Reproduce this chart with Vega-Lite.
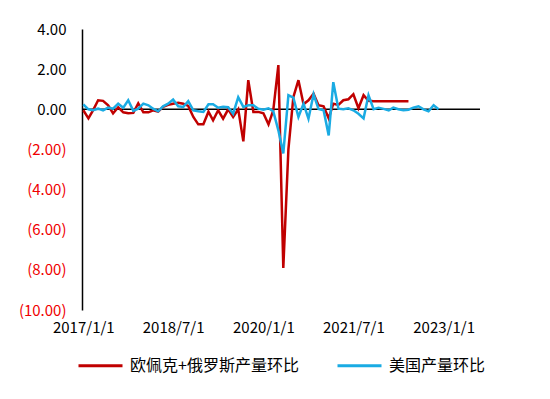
{
  "$schema": "https://vega.github.io/schema/vega-lite/v6.json",
  "width": 398,
  "height": 281,
  "autosize": {"type": "none"},
  "padding": {"left": 82, "top": 29, "right": 70, "bottom": 89},
  "background": "white",
  "config": {"view": {"stroke": null}, "font": "Noto Sans CJK SC"},
  "datasets": {
    "main": [
      {"date":"2017/01/01","series":"欧佩克+俄罗斯产量环比","value":-0.05},
      {"date":"2017/02/01","series":"欧佩克+俄罗斯产量环比","value":-0.45},
      {"date":"2017/03/01","series":"欧佩克+俄罗斯产量环比","value":-0.05},
      {"date":"2017/04/01","series":"欧佩克+俄罗斯产量环比","value":0.45},
      {"date":"2017/05/01","series":"欧佩克+俄罗斯产量环比","value":0.42},
      {"date":"2017/06/01","series":"欧佩克+俄罗斯产量环比","value":0.2},
      {"date":"2017/07/01","series":"欧佩克+俄罗斯产量环比","value":-0.2},
      {"date":"2017/08/01","series":"欧佩克+俄罗斯产量环比","value":0.1},
      {"date":"2017/09/01","series":"欧佩克+俄罗斯产量环比","value":-0.15},
      {"date":"2017/10/01","series":"欧佩克+俄罗斯产量环比","value":-0.2},
      {"date":"2017/11/01","series":"欧佩克+俄罗斯产量环比","value":-0.18},
      {"date":"2017/12/01","series":"欧佩克+俄罗斯产量环比","value":0.3},
      {"date":"2018/01/01","series":"欧佩克+俄罗斯产量环比","value":-0.15},
      {"date":"2018/02/01","series":"欧佩克+俄罗斯产量环比","value":-0.15},
      {"date":"2018/03/01","series":"欧佩克+俄罗斯产量环比","value":-0.05},
      {"date":"2018/04/01","series":"欧佩克+俄罗斯产量环比","value":-0.12},
      {"date":"2018/05/01","series":"欧佩克+俄罗斯产量环比","value":0.12},
      {"date":"2018/06/01","series":"欧佩克+俄罗斯产量环比","value":0.22},
      {"date":"2018/07/01","series":"欧佩克+俄罗斯产量环比","value":0.28},
      {"date":"2018/08/01","series":"欧佩克+俄罗斯产量环比","value":0.33},
      {"date":"2018/09/01","series":"欧佩克+俄罗斯产量环比","value":0.28},
      {"date":"2018/10/01","series":"欧佩克+俄罗斯产量环比","value":0.17},
      {"date":"2018/11/01","series":"欧佩克+俄罗斯产量环比","value":-0.38},
      {"date":"2018/12/01","series":"欧佩克+俄罗斯产量环比","value":-0.75},
      {"date":"2019/01/01","series":"欧佩克+俄罗斯产量环比","value":-0.75},
      {"date":"2019/02/01","series":"欧佩克+俄罗斯产量环比","value":-0.12},
      {"date":"2019/03/01","series":"欧佩克+俄罗斯产量环比","value":-0.55},
      {"date":"2019/04/01","series":"欧佩克+俄罗斯产量环比","value":-0.05},
      {"date":"2019/05/01","series":"欧佩克+俄罗斯产量环比","value":-0.47},
      {"date":"2019/06/01","series":"欧佩克+俄罗斯产量环比","value":0.0},
      {"date":"2019/07/01","series":"欧佩克+俄罗斯产量环比","value":-0.38},
      {"date":"2019/08/01","series":"欧佩克+俄罗斯产量环比","value":0.0},
      {"date":"2019/09/01","series":"欧佩克+俄罗斯产量环比","value":-1.6},
      {"date":"2019/10/01","series":"欧佩克+俄罗斯产量环比","value":1.45},
      {"date":"2019/11/01","series":"欧佩克+俄罗斯产量环比","value":-0.13},
      {"date":"2019/12/01","series":"欧佩克+俄罗斯产量环比","value":-0.13},
      {"date":"2020/01/01","series":"欧佩克+俄罗斯产量环比","value":-0.2},
      {"date":"2020/02/01","series":"欧佩克+俄罗斯产量环比","value":-0.75},
      {"date":"2020/03/01","series":"欧佩克+俄罗斯产量环比","value":-0.05},
      {"date":"2020/04/01","series":"欧佩克+俄罗斯产量环比","value":2.2},
      {"date":"2020/05/01","series":"欧佩克+俄罗斯产量环比","value":-7.9},
      {"date":"2020/06/01","series":"欧佩克+俄罗斯产量环比","value":-2.0},
      {"date":"2020/07/01","series":"欧佩克+俄罗斯产量环比","value":0.6},
      {"date":"2020/08/01","series":"欧佩克+俄罗斯产量环比","value":1.45},
      {"date":"2020/09/01","series":"欧佩克+俄罗斯产量环比","value":0.25},
      {"date":"2020/10/01","series":"欧佩克+俄罗斯产量环比","value":0.45},
      {"date":"2020/11/01","series":"欧佩克+俄罗斯产量环比","value":0.78},
      {"date":"2020/12/01","series":"欧佩克+俄罗斯产量环比","value":0.2},
      {"date":"2021/01/01","series":"欧佩克+俄罗斯产量环比","value":0.15},
      {"date":"2021/02/01","series":"欧佩克+俄罗斯产量环比","value":-0.45},
      {"date":"2021/03/01","series":"欧佩克+俄罗斯产量环比","value":0.28},
      {"date":"2021/04/01","series":"欧佩克+俄罗斯产量环比","value":0.22},
      {"date":"2021/05/01","series":"欧佩克+俄罗斯产量环比","value":0.45},
      {"date":"2021/06/01","series":"欧佩克+俄罗斯产量环比","value":0.5},
      {"date":"2021/07/01","series":"欧佩克+俄罗斯产量环比","value":0.75},
      {"date":"2021/08/01","series":"欧佩克+俄罗斯产量环比","value":0.05},
      {"date":"2021/09/01","series":"欧佩克+俄罗斯产量环比","value":0.7},
      {"date":"2021/10/01","series":"欧佩克+俄罗斯产量环比","value":0.42},
      {"date":"2021/11/01","series":"欧佩克+俄罗斯产量环比","value":0.4},
      {"date":"2021/12/01","series":"欧佩克+俄罗斯产量环比","value":0.4},
      {"date":"2022/01/01","series":"欧佩克+俄罗斯产量环比","value":0.4},
      {"date":"2022/02/01","series":"欧佩克+俄罗斯产量环比","value":0.4},
      {"date":"2022/03/01","series":"欧佩克+俄罗斯产量环比","value":0.4},
      {"date":"2022/04/01","series":"欧佩克+俄罗斯产量环比","value":0.4},
      {"date":"2022/05/01","series":"欧佩克+俄罗斯产量环比","value":0.4},
      {"date":"2022/06/01","series":"欧佩克+俄罗斯产量环比","value":0.4},
      {"date":"2017/01/01","series":"美国产量环比","value":0.25},
      {"date":"2017/02/01","series":"美国产量环比","value":0.0},
      {"date":"2017/03/01","series":"美国产量环比","value":-0.05},
      {"date":"2017/04/01","series":"美国产量环比","value":0.03},
      {"date":"2017/05/01","series":"美国产量环比","value":-0.05},
      {"date":"2017/06/01","series":"美国产量环比","value":0.08},
      {"date":"2017/07/01","series":"美国产量环比","value":0.03},
      {"date":"2017/08/01","series":"美国产量环比","value":0.28},
      {"date":"2017/09/01","series":"美国产量环比","value":0.08},
      {"date":"2017/10/01","series":"美国产量环比","value":0.45},
      {"date":"2017/11/01","series":"美国产量环比","value":-0.08},
      {"date":"2017/12/01","series":"美国产量环比","value":0.03},
      {"date":"2018/01/01","series":"美国产量环比","value":0.28},
      {"date":"2018/02/01","series":"美国产量环比","value":0.2},
      {"date":"2018/03/01","series":"美国产量环比","value":0.03},
      {"date":"2018/04/01","series":"美国产量环比","value":-0.1},
      {"date":"2018/05/01","series":"美国产量环比","value":0.15},
      {"date":"2018/06/01","series":"美国产量环比","value":0.28},
      {"date":"2018/07/01","series":"美国产量环比","value":0.48},
      {"date":"2018/08/01","series":"美国产量环比","value":0.15},
      {"date":"2018/09/01","series":"美国产量环比","value":0.12},
      {"date":"2018/10/01","series":"美国产量环比","value":0.4},
      {"date":"2018/11/01","series":"美国产量环比","value":-0.05},
      {"date":"2018/12/01","series":"美国产量环比","value":-0.1},
      {"date":"2019/01/01","series":"美国产量环比","value":-0.13},
      {"date":"2019/02/01","series":"美国产量环比","value":0.25},
      {"date":"2019/03/01","series":"美国产量环比","value":0.25},
      {"date":"2019/04/01","series":"美国产量环比","value":0.08},
      {"date":"2019/05/01","series":"美国产量环比","value":0.12},
      {"date":"2019/06/01","series":"美国产量环比","value":0.1},
      {"date":"2019/07/01","series":"美国产量环比","value":-0.22},
      {"date":"2019/08/01","series":"美国产量环比","value":0.6},
      {"date":"2019/09/01","series":"美国产量环比","value":0.12},
      {"date":"2019/10/01","series":"美国产量环比","value":0.2},
      {"date":"2019/11/01","series":"美国产量环比","value":0.2},
      {"date":"2019/12/01","series":"美国产量环比","value":0.03},
      {"date":"2020/01/01","series":"美国产量环比","value":-0.02},
      {"date":"2020/02/01","series":"美国产量环比","value":0.05},
      {"date":"2020/03/01","series":"美国产量环比","value":-0.1},
      {"date":"2020/04/01","series":"美国产量环比","value":-1.05},
      {"date":"2020/05/01","series":"美国产量环比","value":-2.2},
      {"date":"2020/06/01","series":"美国产量环比","value":0.7},
      {"date":"2020/07/01","series":"美国产量环比","value":0.58},
      {"date":"2020/08/01","series":"美国产量环比","value":-0.38},
      {"date":"2020/09/01","series":"美国产量环比","value":0.28},
      {"date":"2020/10/01","series":"美国产量环比","value":-0.47},
      {"date":"2020/11/01","series":"美国产量环比","value":0.75},
      {"date":"2020/12/01","series":"美国产量环比","value":0.02},
      {"date":"2021/01/01","series":"美国产量环比","value":-0.05},
      {"date":"2021/02/01","series":"美国产量环比","value":-1.3},
      {"date":"2021/03/01","series":"美国产量环比","value":1.35},
      {"date":"2021/04/01","series":"美国产量环比","value":0.03},
      {"date":"2021/05/01","series":"美国产量环比","value":0.0},
      {"date":"2021/06/01","series":"美国产量环比","value":0.05},
      {"date":"2021/07/01","series":"美国产量环比","value":-0.05},
      {"date":"2021/08/01","series":"美国产量环比","value":-0.22},
      {"date":"2021/09/01","series":"美国产量环比","value":-0.45},
      {"date":"2021/10/01","series":"美国产量环比","value":0.7},
      {"date":"2021/11/01","series":"美国产量环比","value":0.0},
      {"date":"2021/12/01","series":"美国产量环比","value":0.08},
      {"date":"2022/01/01","series":"美国产量环比","value":0.02},
      {"date":"2022/02/01","series":"美国产量环比","value":-0.05},
      {"date":"2022/03/01","series":"美国产量环比","value":0.08},
      {"date":"2022/04/01","series":"美国产量环比","value":0.0},
      {"date":"2022/05/01","series":"美国产量环比","value":-0.05},
      {"date":"2022/06/01","series":"美国产量环比","value":-0.02},
      {"date":"2022/07/01","series":"美国产量环比","value":0.08},
      {"date":"2022/08/01","series":"美国产量环比","value":0.15},
      {"date":"2022/09/01","series":"美国产量环比","value":0.0},
      {"date":"2022/10/01","series":"美国产量环比","value":-0.1},
      {"date":"2022/11/01","series":"美国产量环比","value":0.2},
      {"date":"2022/12/01","series":"美国产量环比","value":0.0}
    ]
  },
  "encoding": {
    "y": {
      "field": "value", "type": "quantitative",
      "scale": {"domain": [-10, 4], "nice": false, "zero": false},
      "axis": {
        "title": null, "grid": false, "ticks": false,
        "domain": true, "domainColor": "#000000", "domainWidth": 1.5,
        "values": [-10, -8, -6, -4, -2, 0, 2, 4],
        "labelExpr": "datum.value < 0 ? '(' + format(-datum.value, '.2f') + ')' : format(datum.value, '.2f') + ' '",
        "labelColor": {"condition": {"test": "datum.value < 0", "value": "#F00000"}, "value": "#000000"},
        "labelFontSize": 15, "labelPadding": 16, "labelOverlap": false
      }
    }
  },
  "layer": [
    {
      "data": {"values": [{"baseline": 0}]},
      "mark": {"type": "rule", "color": "#000000", "strokeWidth": 1.5},
      "encoding": {"y": {"field": "baseline", "type": "quantitative"}}
    },
    {
      "data": {"name": "main"},
      "encoding": {
        "x": {
          "field": "date", "type": "temporal",
          "scale": {"domain": [{"year": 2016, "month": 12, "date": 24}, {"year": 2023, "month": 8, "date": 10}]},
          "axis": {
            "title": null, "domain": false, "ticks": false, "grid": false,
            "values": [
              {"year": 2017, "month": 1, "date": 1},
              {"year": 2018, "month": 7, "date": 1},
              {"year": 2020, "month": 1, "date": 1},
              {"year": 2021, "month": 7, "date": 1},
              {"year": 2023, "month": 1, "date": 1}
            ],
            "format": "%Y/%-m/%-d", "labelFlush": false, "labelOverlap": false,
            "labelFontSize": 15, "labelColor": "#000000", "labelPadding": 10
          }
        },
        "color": {
          "field": "series", "type": "nominal",
          "scale": {"domain": ["欧佩克+俄罗斯产量环比", "美国产量环比"], "range": ["#C00000", "#1AABE3"]},
          "legend": {
            "title": null, "orient": "none", "legendX": -5, "legendY": 313,
            "direction": "horizontal", "symbolType": "stroke", "symbolSize": 1936,
            "symbolStrokeWidth": 3, "labelFontSize": 16, "labelOffset": 6,
            "columnPadding": 32, "labelColor": "#000000", "labelLimit": 300
          }
        }
      },
      "layer": [
        {
          "transform": [{"filter": "datum.series === '欧佩克+俄罗斯产量环比'"}],
          "mark": {"type": "line", "strokeWidth": 2.5}
        },
        {
          "transform": [{"filter": "datum.series === '美国产量环比'"}],
          "mark": {"type": "line", "strokeWidth": 2.5}
        }
      ]
    }
  ]
}
